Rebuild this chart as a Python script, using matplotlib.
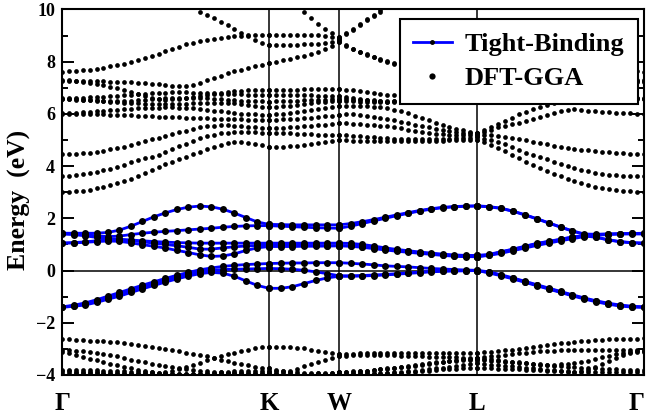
import numpy as np
import matplotlib
matplotlib.use('Agg')
import matplotlib.pyplot as plt
from matplotlib.lines import Line2D

nan = np.nan
N = [nan]

# ---- k-path (high-symmetry points) ----
k_labels = ['Γ', 'K', 'W', 'L', 'Γ']
k_nodes = [0.0, 1.062, 1.422, 2.130, 2.987]

# ---- DFT-GGA bands (segments: Γ-K, K-W, W-L, L-Γ) ----
cb1 = [[3.00, 3.01, 3.03, 3.06, 3.10, 3.15, 3.20, 3.26, 3.34, 3.42, 3.51, 3.62, 3.73, 3.84, 3.96, 4.07, 4.17, 4.27, 4.36, 4.45, 4.53, 4.64, 4.74, 4.82, 4.88, 4.92, 4.94, 4.90, 4.85, 4.80, 4.75],
       [4.75, 4.75, 4.75, 4.76, 4.78, 4.80, 4.83, 4.88, 4.93, 4.97, 5.00],
       [5.00, 4.99, 4.98, 4.97, 4.96, 4.95, 4.95, 4.95, 4.95, 4.95, 4.96, 4.96, 4.97, 4.97, 4.98, 4.98, 4.99, 4.99, 5.00, 5.00, 5.00],
       [5.00, 4.92, 4.81, 4.71, 4.57, 4.43, 4.30, 4.17, 4.04, 3.91, 3.80, 3.70, 3.61, 3.51, 3.42, 3.34, 3.27, 3.21, 3.16, 3.12, 3.08, 3.05, 3.03, 3.01, 3.00]]
cb2 = [[3.62, 3.63, 3.66, 3.69, 3.73, 3.78, 3.84, 3.90, 3.97, 4.05, 4.14, 4.22, 4.30, 4.36, 4.43, 4.54, 4.65, 4.76, 4.86, 4.96, 5.06, 5.14, 5.20, 5.25, 5.28, 5.30, 5.31, 5.31, 5.30, 5.28, 5.26],
       [5.26, 5.26, 5.25, 5.25, 5.24, 5.23, 5.22, 5.21, 5.20, 5.20, 5.20],
       [5.20, 5.18, 5.16, 5.14, 5.12, 5.10, 5.08, 5.06, 5.05, 5.04, 5.03, 5.02, 5.02, 5.02, 5.03, 5.04, 5.05, 5.06, 5.07, 5.08, 5.10],
       [5.10, 5.05, 5.00, 4.93, 4.83, 4.72, 4.62, 4.52, 4.43, 4.35, 4.26, 4.16, 4.08, 4.00, 3.93, 3.86, 3.80, 3.75, 3.71, 3.67, 3.65, 3.63, 3.62, 3.62, 3.62]]
cb3 = [[4.46, 4.47, 4.48, 4.50, 4.52, 4.55, 4.59, 4.64, 4.69, 4.75, 4.81, 4.88, 4.95, 5.02, 5.09, 5.16, 5.23, 5.30, 5.36, 5.42, 5.48, 5.52, 5.55, 5.56, 5.56, 5.55, 5.53, 5.51, 5.49, 5.47, 5.45],
       [5.45, 5.46, 5.47, 5.49, 5.51, 5.53, 5.55, 5.57, 5.59, 5.62, 5.64],
       [5.64, 5.64, 5.63, 5.61, 5.59, 5.57, 5.55, 5.52, 5.49, 5.45, 5.40, 5.35, 5.31, 5.27, 5.24, 5.22, 5.20, 5.19, 5.18, 5.18, 5.18],
       [5.18, 5.19, 5.20, 5.16, 5.12, 5.08, 5.04, 5.00, 4.94, 4.89, 4.84, 4.79, 4.74, 4.70, 4.66, 4.63, 4.60, 4.57, 4.55, 4.53, 4.51, 4.49, 4.48, 4.47, 4.46]]
cb4 = [[6.00, 6.00, 6.00, 6.00, 5.99, 5.99, 5.98, 5.97, 5.96, 5.95, 5.94, 5.93, 5.92, 5.91, 5.90, 5.89, 5.88, 5.87, 5.86, 5.85, 5.84, 5.83, 5.82, 5.81, 5.80, 5.80, 5.79, 5.78, 5.78, 5.77, 5.77],
       [5.77, 5.78, 5.79, 5.80, 5.82, 5.84, 5.86, 5.88, 5.91, 5.93, 5.96],
       [5.96, 5.99, 5.98, 5.96, 5.93, 5.89, 5.85, 5.80, 5.75, 5.70, 5.64, 5.58, 5.53, 5.48, 5.43, 5.39, 5.35, 5.31, 5.28, 5.26, 5.25],
       [5.25, 5.32, 5.39, 5.48, 5.55, 5.60, 5.66, 5.73, 5.81, 5.89, 5.97, 6.05, 6.12, 6.16, 6.18, 6.16, 6.13, 6.10, 6.08, 6.06, 6.04, 6.03, 6.02, 6.01, 6.00]]
cb5 = [[6.04, 6.04, 6.05, 6.06, 6.08, 6.10, 6.12, 6.14, 6.16, 6.18, 6.20, 6.21, 6.22, 6.23, 6.24, 6.25, 6.25, 6.24, 6.23, 6.21, 6.19, 6.16, 6.13, 6.10, 6.07, 6.04, 6.01, 5.99, 5.98, 5.97, 5.96],
       [5.96, 5.98, 6.01, 6.04, 6.08, 6.12, 6.16, 6.20, 6.24, 6.27, 6.30],
       [6.30, 6.32, 6.32, 6.31, 6.30, 6.28, 6.26, 6.22, 6.16, 6.10, 6.02, 5.93, 5.84, 5.75, 5.66, 5.58, 5.50, 5.43, 5.37, 5.32, 5.28],
       [5.28, 5.38, 5.50, 5.62, 5.74, 5.86, 5.98, 6.09, 6.19, 6.28, 6.36, 6.43, 6.49, 6.54, 6.58, 6.61, 6.63, 6.64, 6.64, 6.63, 6.62, 6.60, 6.59, 6.58, 6.57]]
cb6 = [[6.57, 6.57, 6.56, 6.55, 6.53, 6.51, 6.49, 6.47, 6.45, 6.43, 6.41, 6.40, 6.39, 6.38, 6.38, 6.38, 6.38, 6.38, 6.39, 6.40, 6.41, 6.42, 6.43, 6.43, 6.42, 6.40, 6.37, 6.34, 6.31, 6.28, 6.26],
       [6.26, 6.28, 6.30, 6.32, 6.35, 6.38, 6.41, 6.44, 6.46, 6.48, 6.50],
       [6.50, 6.49, 6.48, 6.47, 6.46, 6.46, 6.46, 6.47, 6.48, 6.50, 6.52, 6.55, 6.58, 6.61, 6.64, 6.67, 6.70, 6.72, 6.74, 6.75, 6.76],
       [6.76, 6.78, 6.80, 6.82, 6.84, 6.86, 6.88, 6.90, 6.92, 6.93, 6.94, 6.95, 6.96, 6.96, 6.96, 6.95, 6.93, 6.91, 6.87, 6.82, 6.76, 6.70, 6.64, 6.60, 6.57]]
cb7 = [[6.57, 6.56, 6.55, 6.54, 6.53, 6.52, 6.51, 6.50, 6.50, 6.50, 6.51, 6.52, 6.54, 6.56, 6.58, 6.60, 6.61, 6.62, 6.62, 6.62, 6.61, 6.60, 6.58, 6.56, 6.54, 6.52, 6.51, 6.50, 6.49, 6.48, 6.47],
       [6.47, 6.48, 6.49, 6.50, 6.51, 6.52, 6.53, 6.54, 6.55, 6.56, 6.57],
       [6.57, 6.56, 6.55, 6.54, 6.53, 6.52, 6.51, 6.50, 6.50, 6.50, 6.51, 6.52, 6.54, 6.56, 6.58, 6.60, 6.62, 6.64, 6.66, 6.68, 6.70],
       [6.70, 6.72, 6.74, 6.76, 6.78, 6.80, 6.82, 6.84, 6.86, 6.88, 6.89, 6.90, 6.91, 6.91, 6.91, 6.90, 6.88, 6.85, 6.81, 6.77, 6.72, 6.68, 6.64, 6.62, 6.60]]
cb8 = [[6.60, 6.60, 6.61, 6.62, 6.63, 6.64, 6.66, 6.68, 6.70, 6.72, 6.74, 6.76, 6.78, 6.80, 6.81, 6.82, 6.83, 6.83, 6.83, 6.82, 6.81, 6.80, 6.79, 6.78, 6.77, 6.76, 6.75, 6.74, 6.74, 6.73, 6.73],
       [6.73, 6.73, 6.72, 6.72, 6.72, 6.71, 6.71, 6.70, 6.70, 6.70, 6.70],
       [6.70, 6.64, 6.60, 6.57, 6.54, 6.51, 6.49, 6.47, 6.46, 6.46, 6.47, 6.48, 6.50, 6.52, 6.54, 6.56, 6.58, 6.60, 6.62, 6.63, 6.64],
       [6.64, 6.67, 6.71, 6.75, 6.80, 6.85, 6.90, 6.95, 7.00, 7.05, 7.09, 7.13, 7.16, 7.19, 7.21, 7.23, 7.24, 7.25, 7.25, 7.25, 7.25, 7.24, 7.24, 7.24, 7.24]]
cb9 = [[7.30, 7.29, 7.27, 7.24, 7.20, 7.15, 7.10, 7.05, 6.98, 6.92, 6.85, 6.76, 6.68, 6.60, 6.56, 6.55, 6.56, 6.58, 6.61, 6.65, 6.69, 6.73, 6.77, 6.80, 6.83, 6.86, 6.88, 6.90, 6.91, 6.92, 6.92],
       [6.92, 6.92, 6.93, 6.93, 6.93, 6.94, 6.94, 6.94, 6.95, 6.95, 6.95],
       [6.95, 6.93, 6.90, 6.87, 6.83, 6.80, 6.77, 6.74, 6.71, 6.68, 6.66, 6.64, 6.62, 6.60, 6.58, 6.56, 6.55, 6.54, 6.53, 6.52, 6.52],
       [6.52, 6.56, 6.61, 6.67, 6.73, 6.80, 6.87, 6.94, 7.01, 7.07, 7.13, 7.18, 7.22, 7.25, 7.28, 7.30, 7.31, 7.32, 7.32, 7.32, 7.31, 7.31, 7.30, 7.30, 7.30]]
cb10 = [[7.26, 7.26, 7.26, 7.26, 7.26, 7.25, 7.25, 7.24, 7.23, 7.22, 7.21, 7.19, 7.17, 7.15, 7.13, 7.10, 7.08, 7.06, 7.06, 7.12, 7.18, 7.28, 7.38, 7.46, 7.55, 7.63, 7.70, 7.76, 7.83, 7.89, 7.94],
        [7.94, 7.99, 8.05, 8.11, 8.17, 8.23, 8.30, 8.38, 8.48, 8.60, 8.75],
        [8.75, 8.62, 8.48, 8.36, 8.26, 8.17, 8.08, 8.00, 7.93, 7.87, 7.82, 7.78, 7.74, 7.71, 7.68, 7.66, 7.64, 7.62, 7.61, 7.60, 7.60],
        [7.60, 7.60, 7.59, 7.58, 7.57, 7.55, 7.53, 7.51, 7.49, 7.47, 7.45, 7.43, 7.41, 7.39, 7.37, 7.35, 7.33, 7.31, 7.30, 7.29, 7.28, 7.27, 7.26, 7.26, 7.26]]
cb11 = [N * 20 + [9.92, 9.79, 9.66, 9.53, 9.39, 9.24, 9.10, 8.97, 8.84, 8.73, 8.64],
        [8.64, 8.64, 8.64, 8.65, 8.65, 8.66, 8.67, 8.69, 8.71, 8.75, 8.82],
        [8.82, 8.65, 8.50, 8.38, 8.28, 8.19, 8.10, 8.02, 7.95, 7.89, 7.84, 7.80, 7.76, 7.73, 7.70, 7.68, 7.66, 7.65, 7.64, 7.63, 7.63],
        [7.63, 7.66, 7.70, 7.75, 7.81, 7.88, 7.95, 8.02, 8.08, 8.13, 8.17, 8.20, 8.21, 8.21, 8.20, 8.17, 8.13, 8.07, 8.00, 7.92, 7.84, 7.76, 7.69, 7.64, 7.62]]
cb12 = [[7.62, 7.63, 7.65, 7.67, 7.70, 7.73, 7.77, 7.82, 7.87, 7.93, 8.00, 8.07, 8.15, 8.23, 8.31, 8.40, 8.49, 8.58, 8.66, 8.73, 8.79, 8.84, 8.88, 8.92, 8.95, 8.98, 9.00, 9.02, 9.03, 9.03, 9.03],
        [9.03, 9.03, 9.03, 9.03, 9.03, 9.03, 9.03, 9.02, 9.00, 8.96, 8.90],
        [8.90, 9.05, 9.22, 9.40, 9.58, 9.75, 9.92] + N * 14,
        N * 25]
cb13 = [N * 31,
        N * 5 + [9.90, 9.67, 9.45, 9.27, 9.11, 8.95],
        [8.95, 9.10, 9.27, 9.45, 9.63, 9.80, 9.97] + N * 14,
        N * 25]

vb1 = [[-2.62, -2.63, -2.65, -2.67, -2.69, -2.70, -2.71, -2.73, -2.75, -2.78, -2.81, -2.85, -2.88, -2.92, -2.96, -3.01, -3.05, -3.10, -3.14, -3.19, -3.24, -3.29, -3.35, -3.41, -3.47, -3.53, -3.58, -3.63, -3.68, -3.72, -3.75],
       [-3.75, -3.80, -3.85, -3.85, -3.77, -3.67, -3.58, -3.50, -3.42, -3.35, -3.28],
       [-3.28, -3.26, -3.25, -3.24, -3.24, -3.24, -3.24, -3.25, -3.25, -3.26, -3.27, -3.28, -3.29, -3.30, -3.31, -3.32, -3.33, -3.33, -3.34, -3.34, -3.34],
       [-3.34, -3.32, -3.29, -3.26, -3.23, -3.20, -3.17, -3.14, -3.12, -3.10, -3.08, -3.07, -3.06, -3.05, -3.05, -3.04, -3.04, -3.04, -3.04, -3.04, -3.04, -3.04, -3.04, -3.05, -3.05]]
vb2 = [[-3.05, -3.06, -3.08, -3.10, -3.12, -3.15, -3.19, -3.24, -3.29, -3.35, -3.41, -3.46, -3.52, -3.57, -3.62, -3.66, -3.70, -3.73, -3.77, -3.80, -3.83, -3.86, -3.88, -3.90, -3.92, -3.93, -3.94, -3.95, -3.96, -3.96, -3.96],
       [-3.96, -3.98, -4.00, -4.02, -4.03, -4.03, -4.02, -4.00, -3.97, -3.93, -3.88],
       [-3.88, -3.87, -3.86, -3.84, -3.83, -3.81, -3.79, -3.77, -3.74, -3.71, -3.69, -3.66, -3.62, -3.58, -3.54, -3.50, -3.46, -3.43, -3.40, -3.37, -3.35],
       [-3.35, -3.37, -3.40, -3.43, -3.46, -3.49, -3.52, -3.55, -3.57, -3.59, -3.60, -3.60, -3.59, -3.57, -3.54, -3.50, -3.45, -3.39, -3.33, -3.27, -3.21, -3.16, -3.12, -3.09, -3.07]]
vb3 = [[-3.12, -3.17, -3.23, -3.30, -3.37, -3.44, -3.51, -3.57, -3.63, -3.69, -3.75, -3.80, -3.85, -3.89, -3.92, -3.94, -3.95, -3.96, -3.96, -3.96, -3.95, -3.94, -3.92, -3.90, -3.88, -3.86, -3.85, -3.84, -3.83, -3.83, -3.83],
       [-3.83, -3.84, -3.86, -3.88, -3.90, -3.92, -3.93, -3.94, -3.95, -3.95, -3.95],
       [-3.95, -3.95, -3.95, -3.94, -3.94, -3.93, -3.92, -3.91, -3.90, -3.88, -3.86, -3.84, -3.81, -3.78, -3.75, -3.72, -3.68, -3.65, -3.62, -3.59, -3.56],
       [-3.56, -3.58, -3.60, -3.62, -3.65, -3.67, -3.70, -3.72, -3.75, -3.77, -3.80, -3.82, -3.85, -3.87, -3.88, -3.86, -3.80, -3.70, -3.58, -3.46, -3.35, -3.25, -3.17, -3.13, -3.12]]
vb4 = [[-3.80, -3.80, -3.81, -3.81, -3.82, -3.82, -3.83, -3.84, -3.85, -3.86, -3.87, -3.88, -3.89, -3.90, -3.91, -3.90, -3.85, -3.77, -3.69, -3.61, -3.53, -3.44, -3.36, -3.28, -3.21, -3.14, -3.08, -3.03, -2.98, -2.94, -2.92],
       [-2.92, -2.91, -2.91, -2.92, -2.95, -2.98, -3.03, -3.08, -3.13, -3.17, -3.20],
       [-3.20, -3.19, -3.18, -3.17, -3.17, -3.17, -3.17, -3.17, -3.17, -3.17, -3.17, -3.17, -3.17, -3.17, -3.17, -3.16, -3.16, -3.16, -3.15, -3.15, -3.15],
       [-3.15, -3.13, -3.11, -3.08, -3.06, -3.03, -2.99, -2.95, -2.92, -2.88, -2.85, -2.82, -2.79, -2.76, -2.74, -2.71, -2.69, -2.67, -2.65, -2.64, -2.63, -2.62, -2.61, -2.61, -2.60]]
vb5 = [[-3.92, -3.92, -3.93, -3.93, -3.94, -3.94, -3.95, -3.95, -3.96, -3.96, -3.97, -3.97, -3.98, -3.98, -3.99, -3.99, -4.00, -4.00, -4.00, -4.00, -4.00, -4.00, -4.00, -4.00, -4.00, -4.00, -4.00, -4.00, -4.00, -4.00, -4.00],
       [-3.99, -3.99, -3.99, -3.99, -3.99, -3.99, -3.99, -3.99, -3.99, -3.99, -3.99],
       [-3.99, -3.99, -3.98, -3.98, -3.97, -3.96, -3.95, -3.94, -3.92, -3.91, -3.89, -3.87, -3.85, -3.83, -3.81, -3.79, -3.77, -3.76, -3.75, -3.74, -3.73],
       [-3.73, -3.74, -3.75, -3.76, -3.77, -3.78, -3.79, -3.80, -3.81, -3.82, -3.83, -3.84, -3.85, -3.86, -3.87, -3.88, -3.89, -3.89, -3.90, -3.90, -3.90, -3.90, -3.90, -3.90, -3.90]]
vb6 = [[-3.85, -3.86, -3.87, -3.88, -3.89, -3.90, -3.91, -3.92, -3.93, -3.94, -3.95, -3.95, -3.96, -3.96, -3.97, -3.97, -3.97, -3.97, -3.97, -3.96, -3.96, -3.95, -3.95, -3.94, -3.94, -3.93, -3.93, -3.92, -3.92, -3.91, -3.91],
       [-3.91, -3.92, -3.93, -3.94, -3.95, -3.95, -3.95, -3.94, -3.93, -3.91, -3.89],
       [-3.89, -3.88, -3.87, -3.85, -3.83, -3.81, -3.78, -3.75, -3.72, -3.69, -3.65, -3.62, -3.58, -3.55, -3.52, -3.49, -3.47, -3.45, -3.44, -3.43, -3.43],
       [-3.43, -3.44, -3.46, -3.48, -3.50, -3.52, -3.54, -3.56, -3.58, -3.60, -3.62, -3.64, -3.66, -3.68, -3.70, -3.72, -3.73, -3.75, -3.76, -3.78, -3.79, -3.80, -3.81, -3.82, -3.82]]

dft_bands = [cb1, cb2, cb3, cb4, cb5, cb6, cb7, cb8, cb9, cb10, cb11, cb12, cb13,
             vb1, vb2, vb3, vb4, vb5, vb6]

# ---- Tight-binding bands near the Fermi level ----
tb1 = [[-1.41, -1.37, -1.32, -1.22, -1.10, -0.98, -0.84, -0.70, -0.57, -0.44, -0.32, -0.21, -0.12, -0.07, -0.10, -0.22, -0.40, -0.57, -0.68],
       [-0.68, -0.68, -0.62, -0.50, -0.38, -0.28, -0.22],
       [-0.22, -0.22, -0.21, -0.19, -0.17, -0.14, -0.11, -0.08, -0.05, -0.03, -0.02, -0.01, 0.00],
       [0.00, -0.09, -0.20, -0.32, -0.45, -0.58, -0.71, -0.84, -0.97, -1.09, -1.20, -1.29, -1.36, -1.40, -1.41]]
tb2 = [[-1.40, -1.35, -1.28, -1.17, -1.04, -0.91, -0.77, -0.63, -0.50, -0.37, -0.25, -0.14, -0.05, 0.01, 0.04, 0.05, 0.06, 0.07, 0.08],
       [0.08, 0.07, 0.05, 0.01, -0.05, -0.12, -0.20],
       [-0.20, -0.20, -0.19, -0.17, -0.15, -0.12, -0.09, -0.06, -0.03, -0.01, 0.00, 0.00, 0.00],
       [0.00, -0.07, -0.18, -0.30, -0.43, -0.56, -0.69, -0.82, -0.95, -1.07, -1.18, -1.27, -1.34, -1.38, -1.40]]
tb3 = [[-1.39, -1.33, -1.24, -1.12, -0.98, -0.84, -0.70, -0.56, -0.43, -0.30, -0.18, -0.07, 0.03, 0.10, 0.16, 0.20, 0.23, 0.25, 0.27],
       [0.27, 0.28, 0.29, 0.29, 0.30, 0.30, 0.30],
       [0.30, 0.28, 0.25, 0.22, 0.18, 0.16, 0.14, 0.11, 0.08, 0.06, 0.04, 0.02, 0.01],
       [0.01, -0.05, -0.16, -0.28, -0.41, -0.54, -0.67, -0.80, -0.93, -1.05, -1.16, -1.25, -1.32, -1.37, -1.39]]
tb4 = [[1.05, 1.06, 1.08, 1.11, 1.13, 1.12, 1.06, 0.99, 0.93, 0.86, 0.77, 0.69, 0.60, 0.54, 0.56, 0.64, 0.77, 0.87, 0.92],
       [0.92, 0.92, 0.92, 0.93, 0.93, 0.94, 0.95],
       [0.95, 0.93, 0.89, 0.84, 0.79, 0.74, 0.70, 0.66, 0.62, 0.58, 0.55, 0.53, 0.53],
       [0.53, 0.58, 0.66, 0.76, 0.86, 0.96, 1.05, 1.14, 1.22, 1.30, 1.35, 1.38, 1.40, 1.40, 1.40]]
tb5 = [[1.05, 1.07, 1.10, 1.14, 1.18, 1.18, 1.15, 1.10, 1.05, 1.00, 0.95, 0.89, 0.82, 0.82, 0.87, 0.91, 0.94, 0.96, 0.97],
       [0.97, 0.97, 0.97, 0.96, 0.96, 0.95, 0.95],
       [0.95, 0.95, 0.92, 0.88, 0.83, 0.78, 0.73, 0.68, 0.64, 0.60, 0.56, 0.54, 0.53],
       [0.53, 0.60, 0.71, 0.81, 0.92, 1.03, 1.11, 1.19, 1.28, 1.33, 1.27, 1.17, 1.10, 1.06, 1.05]]
tb6 = [[1.40, 1.38, 1.33, 1.27, 1.22, 1.20, 1.17, 1.14, 1.11, 1.09, 1.07, 1.06, 1.05, 1.05, 1.05, 1.05, 1.05, 1.05, 1.05],
       [1.05, 1.05, 1.05, 1.05, 1.05, 1.05, 1.05],
       [1.05, 1.04, 1.00, 0.94, 0.87, 0.81, 0.76, 0.71, 0.67, 0.63, 0.60, 0.58, 0.58],
       [0.58, 0.62, 0.72, 0.82, 0.93, 1.04, 1.12, 1.20, 1.29, 1.34, 1.28, 1.18, 1.11, 1.07, 1.05]]
tb7 = [[1.42, 1.40, 1.37, 1.33, 1.30, 1.32, 1.38, 1.43, 1.47, 1.50, 1.53, 1.56, 1.59, 1.62, 1.66, 1.69, 1.71, 1.72, 1.72],
       [1.72, 1.70, 1.68, 1.66, 1.64, 1.63, 1.62],
       [1.62, 1.70, 1.80, 1.90, 2.00, 2.10, 2.19, 2.28, 2.35, 2.41, 2.44, 2.46, 2.47],
       [2.47, 2.44, 2.38, 2.27, 2.13, 1.98, 1.82, 1.66, 1.51, 1.38, 1.38, 1.40, 1.41, 1.42, 1.42]]
tb8 = [[1.43, 1.43, 1.43, 1.43, 1.46, 1.55, 1.70, 1.88, 2.06, 2.21, 2.34, 2.43, 2.47, 2.44, 2.35, 2.20, 2.03, 1.86, 1.77],
       [1.77, 1.76, 1.75, 1.75, 1.75, 1.75, 1.75],
       [1.75, 1.80, 1.87, 1.95, 2.04, 2.13, 2.22, 2.30, 2.37, 2.42, 2.45, 2.47, 2.48],
       [2.48, 2.45, 2.39, 2.28, 2.14, 1.99, 1.83, 1.67, 1.52, 1.40, 1.39, 1.40, 1.41, 1.42, 1.43]]

tb_bands = [tb1, tb2, tb3, tb4, tb5, tb6, tb7, tb8]

legend_labels = ['Tight-Binding', 'DFT-GGA']


def along_path(band):
    xs, ys = [], []
    for i, seg in enumerate(band):
        xs.append(np.linspace(k_nodes[i], k_nodes[i + 1], len(seg)))
        ys.append(np.asarray(seg, dtype=float))
    return np.concatenate(xs), np.concatenate(ys)


plt.rcParams['font.family'] = ['Liberation Serif', 'DejaVu Serif']
plt.rcParams['font.weight'] = 'bold'

fig = plt.figure(figsize=(6.46, 4.16), dpi=100)
ax = fig.add_axes([0.096, 0.0986, 0.901, 0.8786])

for kx in k_nodes[1:-1]:
    ax.axvline(kx, color='k', lw=1.1, zorder=2)
ax.axhline(0.0, color='k', lw=1.1, zorder=2)

for band in dft_bands:
    x, y = along_path(band)
    ax.plot(x, y, ls='none', marker='o', ms=3.4, color='k', mew=0, zorder=3)

for band in tb_bands:
    x, y = along_path(band)
    ax.plot(x, y, '-', color='#0000ff', lw=2.0, zorder=4)
    ax.plot(x, y, ls='none', marker='o', ms=5.0, color='k', mew=0, zorder=5)

ax.set_xlim(k_nodes[0], k_nodes[-1])
ax.set_ylim(-4, 10)
ax.set_xticks(k_nodes)
ax.set_xticklabels(k_labels, fontsize=18, fontweight='bold')
xt = ax.get_xticklabels()
xt[-1].set_horizontalalignment('right')
ax.set_yticks(np.arange(-4, 11, 2))
ax.set_yticks(np.arange(-3, 10, 2), minor=True)
ax.tick_params(axis='x', which='both', length=0, pad=12)
ax.tick_params(axis='y', which='major', direction='in', length=8.6, width=1.4,
               right=True, labelsize=13, pad=5)
ax.tick_params(axis='y', which='minor', direction='in', length=4.3, width=1.4,
               right=True)
for lab in ax.get_yticklabels():
    lab.set_fontweight('bold')
for sp in ax.spines.values():
    sp.set_linewidth(1.5)

ax.set_ylabel('Energy  (eV)', fontsize=18.5, fontweight='bold')
ax.yaxis.set_label_coords(-0.054, 0.48)

handles = [Line2D([], [], color='#0000ff', lw=2.0, marker='o', ms=2.5, mfc='k', mec='k'),
           Line2D([], [], ls='none', marker='o', ms=4.5, color='k', mew=0)]
leg = ax.legend(handles, legend_labels, loc='upper right', bbox_to_anchor=(0.9897, 0.974),
                borderaxespad=0, frameon=True, fancybox=False, edgecolor='k',
                framealpha=1, prop={'size': 19, 'weight': 'bold'},
                handlelength=1.45, handletextpad=0.5, borderpad=0.52, labelspacing=0.4)
leg.get_frame().set_linewidth(1.5)
leg.set_zorder(10)

fig.savefig('out.png', dpi=100)
